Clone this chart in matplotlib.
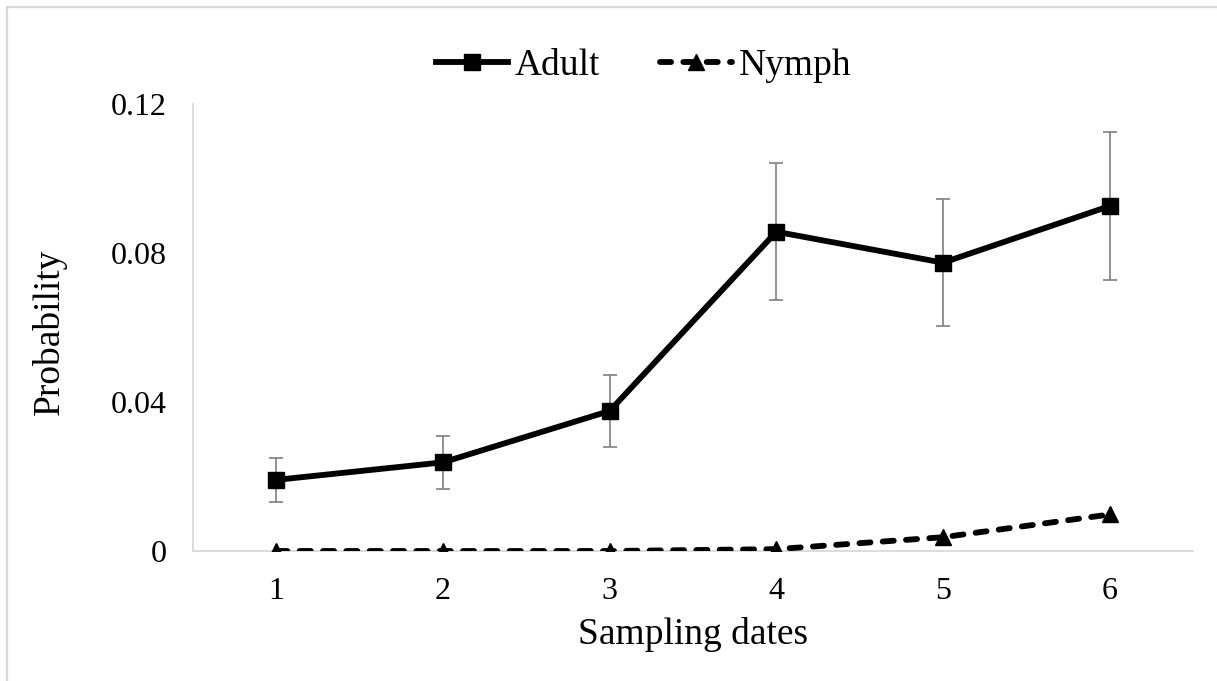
import numpy as np
import matplotlib
matplotlib.use("Agg")
import matplotlib.pyplot as plt
from matplotlib.patches import Rectangle

# values
dates = [1, 2, 3, 4, 5, 6]
adult = [0.0191, 0.0238, 0.0376, 0.0857, 0.0774, 0.0926]
adult_err = [0.0059, 0.0071, 0.0097, 0.0184, 0.0170, 0.0198]
nymph = [0.0, 0.0, 0.0, 0.0005, 0.0037, 0.0098]
yticks = [0, 0.04, 0.08, 0.12]
ytick_labels = ["0", "0.04", "0.08", "0.12"]

plt.rcParams["font.family"] = ["Liberation Serif", "DejaVu Serif"]

fig = plt.figure(figsize=(12.17, 6.81), dpi=100)
ax = fig.add_axes([193 / 1217, 1 - 551 / 681, 1000 / 1217, 447 / 681])

# light grey chart border (only left/top edges fall inside the picture)
fig.patches.append(Rectangle((7 / 1217, -0.1), 1.2, 1.1 - 7 / 681,
                             transform=fig.transFigure, fill=False,
                             edgecolor="#d9d9d9", linewidth=1.6))

ax.errorbar(dates, adult, yerr=adult_err, fmt="none", ecolor="#7f7f7f",
            elinewidth=1.2, capsize=4.8, capthick=1.2, zorder=2)
ax.plot(dates, adult, color="black", linewidth=4.2, marker="s",
        markersize=11.5, label="Adult", zorder=3)
ax.plot(dates, nymph, color="black", linewidth=4.2, marker="^",
        markersize=11.5, dashes=(1.9, 2.1), dash_capstyle="round",
        label="Nymph", zorder=3)

ax.set_xlim(0.5, 6.5)
ax.set_ylim(0, 0.12)
ax.set_xticks(dates)
ax.set_yticks(yticks)
ax.set_yticklabels(ytick_labels)
ax.tick_params(length=0, labelsize=23, pad=19)

for side in ["top", "right"]:
    ax.spines[side].set_visible(False)
for side in ["left", "bottom"]:
    ax.spines[side].set_color("#d9d9d9")
    ax.spines[side].set_linewidth(1.3)

ax.set_xlabel("Sampling dates", fontsize=27)
ax.xaxis.set_label_coords(0.5, -0.148)
ax.set_ylabel("Probability", fontsize=27)
ax.yaxis.set_label_coords(-0.126, 0.49)

ax.legend(loc="center", bbox_to_anchor=(644 / 1217, 1 - 66 / 681),
          bbox_transform=fig.transFigure, ncol=2, frameon=False,
          fontsize=27, handlelength=1.9, handletextpad=0.2,
          columnspacing=1.6)

fig.savefig("out.png", dpi=100)
